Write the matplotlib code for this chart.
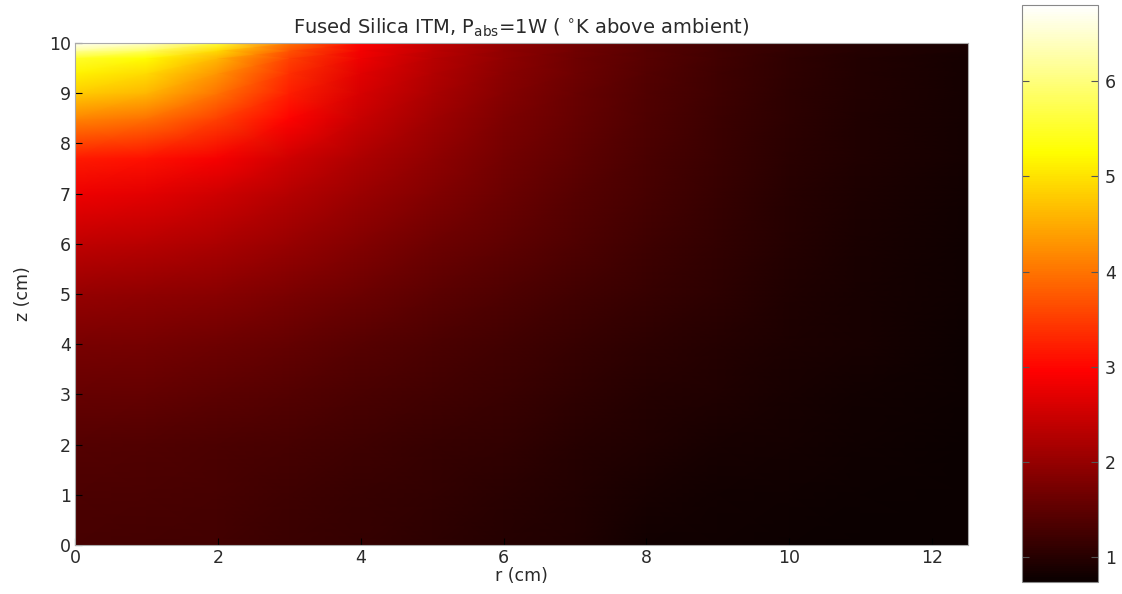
import numpy as np
import matplotlib
matplotlib.use("Agg")
import matplotlib.pyplot as plt

plt.rcParams['font.family'] = ['DejaVu Sans']
plt.rcParams['mathtext.fontset'] = 'dejavusans'

# radial positions (cm)
r_cm = [0, 1, 2, 3, 4, 5, 6, 7, 8, 9, 10, 11, 12.5]
# axial positions (cm)
z_cm = [0, 1, 2, 3, 4, 5, 6, 7, 7.7, 8.5, 9, 9.4, 9.7, 9.85, 10]

# temperature above ambient (K), one row per z value
T_z0   = [1.30, 1.28, 1.24, 1.18, 1.12, 1.06, 1.00, 0.93, 0.83, 0.79, 0.77, 0.75, 0.74]
T_z1   = [1.35, 1.33, 1.29, 1.23, 1.16, 1.10, 1.04, 0.97, 0.88, 0.83, 0.80, 0.77, 0.75]
T_z2   = [1.42, 1.40, 1.35, 1.29, 1.22, 1.16, 1.10, 1.02, 0.94, 0.88, 0.84, 0.80, 0.76]
T_z3   = [1.57, 1.55, 1.49, 1.42, 1.33, 1.25, 1.17, 1.09, 1.00, 0.93, 0.88, 0.83, 0.77]
T_z4   = [1.75, 1.72, 1.65, 1.55, 1.44, 1.34, 1.25, 1.16, 1.07, 0.99, 0.92, 0.86, 0.78]
T_z5   = [2.00, 1.97, 1.88, 1.76, 1.62, 1.49, 1.37, 1.26, 1.15, 1.05, 0.95, 0.87, 0.79]
T_z6   = [2.38, 2.32, 2.20, 2.03, 1.84, 1.66, 1.50, 1.36, 1.23, 1.10, 0.98, 0.89, 0.80]
T_z7   = [2.80, 2.72, 2.53, 2.30, 2.05, 1.83, 1.63, 1.45, 1.30, 1.15, 1.02, 0.92, 0.82]
T_z77  = [3.20, 3.10, 2.88, 2.52, 2.22, 1.96, 1.71, 1.50, 1.33, 1.17, 1.04, 0.94, 0.84]
T_z85  = [4.15, 4.00, 3.55, 2.97, 2.46, 2.10, 1.80, 1.57, 1.37, 1.20, 1.06, 0.95, 0.84]
T_z9   = [4.80, 4.60, 4.00, 3.22, 2.60, 2.20, 1.87, 1.60, 1.39, 1.22, 1.07, 0.96, 0.85]
T_z94  = [5.15, 4.95, 4.30, 3.37, 2.70, 2.27, 1.92, 1.64, 1.41, 1.23, 1.08, 0.96, 0.85]
T_z97  = [5.50, 5.25, 4.60, 3.55, 2.80, 2.32, 1.95, 1.66, 1.43, 1.24, 1.09, 0.97, 0.85]
T_z985 = [6.20, 5.85, 4.95, 3.70, 2.87, 2.36, 1.97, 1.68, 1.44, 1.25, 1.10, 0.98, 0.86]
T_z10  = [6.80, 6.50, 5.60, 4.00, 2.95, 2.40, 2.00, 1.70, 1.45, 1.26, 1.10, 0.98, 0.86]

T = np.array([T_z0, T_z1, T_z2, T_z3, T_z4, T_z5, T_z6, T_z7, T_z77,
              T_z85, T_z9, T_z94, T_z97, T_z985, T_z10])

x_ticks = [0, 2, 4, 6, 8, 10, 12]
y_ticks = [0, 1, 2, 3, 4, 5, 6, 7, 8, 9, 10]
cb_ticks = [1, 2, 3, 4, 5, 6]

fig = plt.figure(figsize=(11.22, 5.94), dpi=100)
ax = fig.add_axes([0.0668, 0.0825, 0.7959, 0.8451])
R, Z = np.meshgrid(r_cm, z_cm)
mesh = ax.pcolormesh(R, Z, T, cmap='hot', shading='gouraud',
                     vmin=0.74, vmax=6.8, rasterized=True)
ax.set_xlim(0, 12.5)
ax.set_ylim(0, 10)
ax.set_xticks(x_ticks)
ax.set_yticks(y_ticks)
txtc = '#2a2a2a'
fs = 12.5
ax.tick_params(direction='in', length=5, color='black', labelsize=fs,
               labelcolor=txtc, top=False, right=False, pad=3)
for s in ax.spines.values():
    s.set_color('#aaaaaa')
    s.set_linewidth(0.8)
ax.set_xlabel('r (cm)', fontsize=fs, color=txtc, labelpad=0)
ax.set_ylabel('z (cm)', fontsize=fs, color=txtc, labelpad=12)
ax.set_title('Fused Silica ITM, P$_{\\rm abs}$=1W ( $^{\\circ}$K above ambient)',
             fontsize=14, color=txtc, pad=7)

cax = fig.add_axes([0.911, 0.0202, 0.0677, 0.9714])
cb = fig.colorbar(mesh, cax=cax, ticks=cb_ticks)
cb.outline.set_edgecolor('#888888')
cb.outline.set_linewidth(0.8)
cax.tick_params(direction='in', length=5, left=True, right=True, color='#555555',
                labelsize=fs, labelcolor=txtc, pad=5)

fig.savefig('out.png', dpi=100)
